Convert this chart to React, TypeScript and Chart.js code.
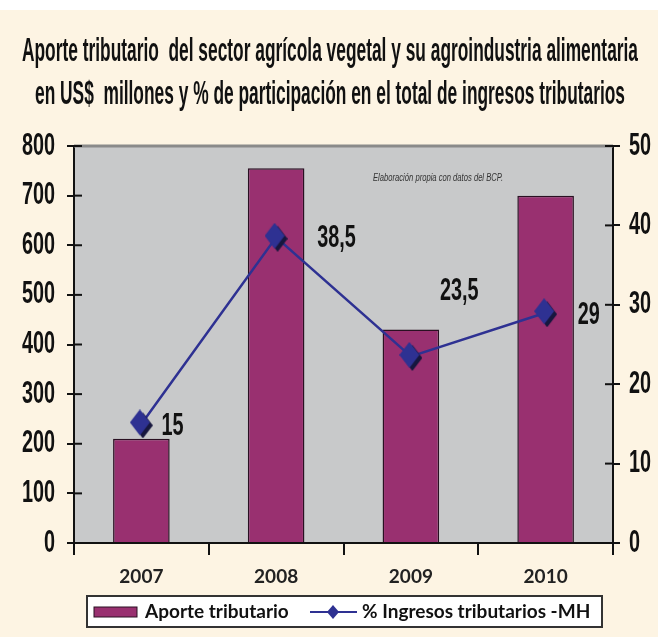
import React, { useEffect, useRef } from "react";
import { Chart, registerables } from "chart.js";
Chart.register(...registerables);

const categories = ["2007", "2008", "2009", "2010"];
const aporteValues = [210, 755, 430, 700];
const porcentajeValues = [15, 38.5, 23.5, 29];
const porcentajeLabels = ["15", "38,5", "23,5", "29"];
const seriesNames = ["Aporte tributario", "% Ingresos tributarios -MH"];
const titleLines = [
  "Aporte tributario  del sector agrícola vegetal y su agroindustria alimentaria",
  "en US$  millones y % de participación en el total de ingresos tributarios",
];
const noteText = "Elaboración propia con datos del BCP.";

const CREAM = "#FDF4E3";
const PLOT_GREY = "#C8C9CA";
const BAR_COLOR = "#993070";
const BAR_BORDER = "#2A1022";
const LINE_COLOR = "#2E3192";

function drawText(
  ctx: CanvasRenderingContext2D,
  text: string,
  x: number,
  y: number,
  font: string,
  color: string,
  sx: number,
  align: "left" | "right" | "center",
  baseline: CanvasTextBaseline = "middle"
) {
  ctx.save();
  ctx.font = font;
  ctx.fillStyle = color;
  ctx.textBaseline = baseline;
  ctx.textAlign = "left";
  const w = ctx.measureText(text).width * sx;
  const left = align === "left" ? x : align === "right" ? x - w : x - w / 2;
  ctx.translate(left, y);
  ctx.scale(sx, 1);
  ctx.fillText(text, 0, 0);
  ctx.restore();
}

function makeDiamond(w: number, h: number, shadow: number) {
  const c = document.createElement("canvas");
  c.width = w + shadow;
  c.height = h + shadow;
  const g = c.getContext("2d")!;
  const dia = (ox: number, oy: number, col: string) => {
    g.beginPath();
    g.moveTo(ox + w / 2, oy);
    g.lineTo(ox + w, oy + h / 2);
    g.lineTo(ox + w / 2, oy + h);
    g.lineTo(ox, oy + h / 2);
    g.closePath();
    g.fillStyle = col;
    g.fill();
  };
  if (shadow > 0) dia(shadow, shadow, "#17173E");
  dia(0, 0, LINE_COLOR);
  return c;
}

const decorPlugin = {
  id: "decor",
  beforeDraw(chart: any) {
    const { ctx, chartArea: a, width, height } = chart;
    ctx.save();
    ctx.fillStyle = CREAM;
    ctx.fillRect(0, 0, width, height);
    ctx.fillStyle = "#FFFFFF";
    ctx.fillRect(0, 0, width, 10);
    ctx.fillStyle = PLOT_GREY;
    ctx.fillRect(a.left, a.top, a.right - a.left, a.bottom - a.top);
    ctx.restore();

    // title
    ctx.save();
    const tFont = 'bold 34px "Liberation Sans", sans-serif';
    ctx.font = tFont;
    const sx = 616 / ctx.measureText(titleLines[0]).width;
    ctx.restore();
    drawText(ctx, titleLines[0], 330, 61, tFont, "#111", sx, "center", "alphabetic");
    drawText(ctx, titleLines[1], 330, 104, tFont, "#111", sx, "center", "alphabetic");
  },
  afterDraw(chart: any) {
    const { ctx, chartArea: a } = chart;
    const yL = chart.scales.y;
    const yR = chart.scales.y1;
    // top border line of plot
    ctx.save();
    ctx.strokeStyle = "#8A8A8A";
    ctx.lineWidth = 3;
    ctx.beginPath();
    ctx.moveTo(a.left, a.top);
    ctx.lineTo(a.right, a.top);
    ctx.stroke();
    // inner tick parts
    ctx.strokeStyle = "#111";
    ctx.lineWidth = 2;
    yL.ticks.forEach((t: any) => {
      const py = yL.getPixelForValue(t.value);
      ctx.beginPath();
      ctx.moveTo(a.left, py);
      ctx.lineTo(a.left + 8, py);
      ctx.stroke();
    });
    yR.ticks.forEach((t: any) => {
      const py = yR.getPixelForValue(t.value);
      ctx.beginPath();
      ctx.moveTo(a.right - 8, py);
      ctx.lineTo(a.right, py);
      ctx.stroke();
    });
    ctx.restore();

    // tick labels
    const tickFont = 'bold 31px "Liberation Sans", sans-serif';
    yL.ticks.forEach((t: any) => {
      drawText(ctx, String(t.value), a.left - 19, yL.getPixelForValue(t.value), tickFont, "#111", 0.64, "right");
    });
    yR.ticks.forEach((t: any) => {
      drawText(ctx, String(t.value), a.right + 16, yR.getPixelForValue(t.value), tickFont, "#111", 0.64, "left");
    });

    // data labels on line
    const meta = chart.getDatasetMeta(1);
    const offsets = [[20, 3], [41, 1], [29, -65], [32, 3]];
    meta.data.forEach((pt: any, i: number) => {
      drawText(ctx, porcentajeLabels[i], pt.x + offsets[i][0], pt.y + offsets[i][1],
        'bold 31px "Liberation Sans", sans-serif', "#111", 0.64, "left");
    });

    // note
    ctx.save();
    const nFont = 'italic 10px "Liberation Sans", sans-serif';
    ctx.font = nFont;
    const nsx = 130 / ctx.measureText(noteText).width;
    ctx.restore();
    drawText(ctx, noteText, 373, 178, nFont, "#333", nsx, "left");

    // legend
    ctx.save();
    ctx.fillStyle = "#FFFFFF";
    ctx.fillRect(87, 596, 515, 31);
    ctx.strokeStyle = "#333";
    ctx.lineWidth = 2;
    ctx.strokeRect(87, 596, 515, 31);
    ctx.fillStyle = BAR_COLOR;
    ctx.fillRect(94, 607, 43, 10);
    ctx.strokeStyle = BAR_BORDER;
    ctx.lineWidth = 1;
    ctx.strokeRect(94, 607, 43, 10);
    ctx.strokeStyle = LINE_COLOR;
    ctx.lineWidth = 2;
    ctx.beginPath();
    ctx.moveTo(310, 612);
    ctx.lineTo(357, 612);
    ctx.stroke();
    ctx.fillStyle = LINE_COLOR;
    ctx.beginPath();
    ctx.moveTo(333, 605);
    ctx.lineTo(339, 612);
    ctx.lineTo(333, 619);
    ctx.lineTo(327, 612);
    ctx.closePath();
    ctx.fill();
    ctx.restore();
    const lFont = 'bold 19px Lato, "Open Sans", sans-serif';
    drawText(ctx, seriesNames[0], 145, 612, lFont, "#111", 1, "left");
    drawText(ctx, seriesNames[1], 362, 612, lFont, "#111", 1, "left");
  },
};

export default function App() {
  const ref = useRef<HTMLCanvasElement | null>(null);
  useEffect(() => {
    if (!ref.current) return;
    const diamond = makeDiamond(20, 26, 3);
    const chart = new Chart(ref.current, {
      type: "bar",
      data: {
        labels: categories,
        datasets: [
          {
            type: "bar",
            label: seriesNames[0],
            data: aporteValues,
            backgroundColor: BAR_COLOR,
            borderColor: BAR_BORDER,
            borderWidth: 1.5,
            barPercentage: 0.42,
            categoryPercentage: 1,
            yAxisID: "y",
            order: 2,
          } as any,
          {
            type: "line",
            label: seriesNames[1],
            data: porcentajeValues,
            borderColor: LINE_COLOR,
            borderWidth: 2.5,
            pointStyle: diamond,
            pointRadius: 10,
            tension: 0,
            yAxisID: "y1",
            order: 1,
          } as any,
        ],
      },
      options: {
        responsive: false,
        animation: false,
        layout: { padding: { top: 146, bottom: 44, left: 0, right: 0 } },
        plugins: {
          legend: { display: false },
          tooltip: { enabled: false },
          title: { display: false },
        },
        scales: {
          x: {
            offset: true,
            grid: { display: true, drawOnChartArea: false, offset: true, tickLength: 12, color: "#111", lineWidth: 2 },
            border: { color: "#111", width: 2 },
            ticks: { font: { family: "Lato", weight: "bold", size: 19 }, color: "#222", padding: 10 },
            afterFit: (s: any) => { s.height = 50; },
          },
          y: {
            position: "left",
            min: 0,
            max: 800,
            ticks: { stepSize: 100, color: "rgba(0,0,0,0)" },
            grid: { drawOnChartArea: false, tickLength: 7, color: "#111", lineWidth: 2 },
            border: { color: "#111", width: 2 },
            afterFit: (s: any) => { s.width = 74; },
          },
          y1: {
            position: "right",
            min: 0,
            max: 50,
            ticks: { stepSize: 10, color: "rgba(0,0,0,0)" },
            grid: { drawOnChartArea: false, tickLength: 7, color: "#111", lineWidth: 2 },
            border: { color: "#111", width: 2 },
            afterFit: (s: any) => { s.width = 45; },
          },
        },
      } as any,
      plugins: [decorPlugin],
    });
    return () => chart.destroy();
  }, []);
  return (
    <div style={{ position: "absolute", left: 0, top: 0, width: 658, height: 637, background: CREAM }}>
      <canvas ref={ref} width={658} height={637} />
    </div>
  );
}
